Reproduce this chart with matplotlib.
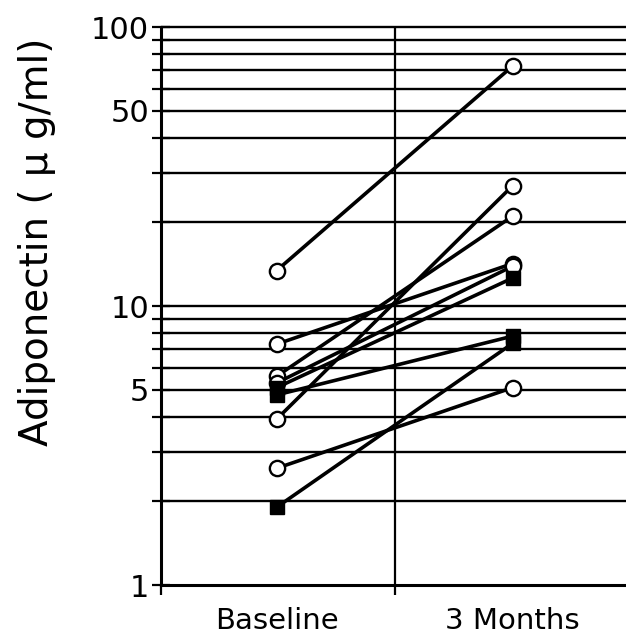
import matplotlib
matplotlib.use("Agg")
import matplotlib.pyplot as plt
from matplotlib.ticker import FixedLocator, NullFormatter

plt.rcParams['font.family'] = ['DejaVu Sans']

# Data: adiponectin (ug/ml) at baseline and after 3 months
circle_baseline = [13.4, 7.3, 5.6, 3.93, 2.62, 5.3]
circle_3months = [72.5, 14.2, 21.0, 27.0, 5.1, 13.9]
square_baseline = [1.9, 4.8, 5.1]
square_3months = [7.35, 7.8, 12.6]
x_labels = ["Baseline", "3 Months"]
y_tick_values = [1, 5, 10, 50, 100]
y_tick_labels = ["1", "5", "10", "50", "100"]

fig = plt.figure(figsize=(6.26, 6.43), dpi=100)
ax = fig.add_axes([0.2572, 0.0902, 0.7428, 0.8678])
ax.set_yscale('log')
ax.set_ylim(1, 100)
ax.set_xlim(-0.49, 1.48)

# horizontal grid lines at every log-tick
grid_vals = [v * d for d in (1, 10) for v in range(2, 10)] + [10, 100]
ax.hlines(grid_vals, -0.49, 1.48, colors='black', linewidth=1.7, clip_on=False, zorder=1)
ax.axvline(0.5, color='black', linewidth=1.6, zorder=1)

xs = [0, 1]
for b, m in zip(circle_baseline, circle_3months):
    ax.plot(xs, [b, m], color='black', linewidth=2.6, zorder=2)
for b, m in zip(square_baseline, square_3months):
    ax.plot(xs, [b, m], color='black', linewidth=2.6, zorder=2)
for b, m in zip(circle_baseline, circle_3months):
    ax.plot(xs, [b, m], linestyle='none', marker='o', markersize=11,
            markerfacecolor='white', markeredgecolor='black', markeredgewidth=1.7, zorder=3)
for b, m in zip(square_baseline, square_3months):
    ax.plot(xs, [b, m], linestyle='none', marker='s', markersize=10,
            markerfacecolor='black', markeredgecolor='black', zorder=3)

# y ticks
ax.yaxis.set_major_locator(FixedLocator(y_tick_values))
ax.set_yticklabels(y_tick_labels)
ax.yaxis.set_minor_locator(FixedLocator([v for v in grid_vals if v not in y_tick_values]))
ax.yaxis.set_minor_formatter(NullFormatter())
ax.tick_params(axis='y', which='both', direction='inout', length=13, width=1.6,
               labelsize=22, pad=2)

# x ticks: labels at data positions, small tick marks at spine and divider
ax.set_xticks(xs)
ax.set_xticklabels(x_labels)
ax.xaxis.set_minor_locator(FixedLocator([-0.49, 0.5]))
ax.tick_params(axis='x', which='major', length=0, labelsize=21, pad=16)
ax.tick_params(axis='x', which='minor', direction='out', length=7, width=1.6)

for s in ('top', 'right'):
    ax.spines[s].set_visible(False)
for s in ('left', 'bottom'):
    ax.spines[s].set_linewidth(2.2)

ax.set_ylabel("Adiponectin ( \u03bc g/ml)", fontsize=28)
ax.yaxis.set_label_coords(-0.225, 0.615)

fig.savefig("out.png", dpi=100)
